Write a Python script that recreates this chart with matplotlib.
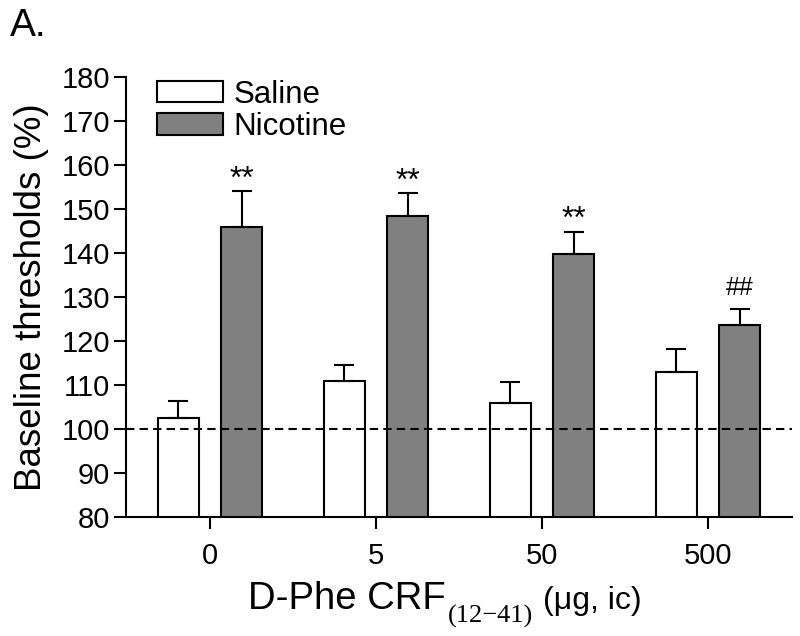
import matplotlib
matplotlib.use("Agg")
import matplotlib.pyplot as plt
import numpy as np

plt.rcParams['font.family'] = ['Liberation Sans', 'DejaVu Sans']

doses = ['0', '5', '50', '500']
saline_mean = [102.5, 110.9, 105.9, 113.0]
saline_sem = [3.9, 3.6, 4.8, 5.2]
nicotine_mean = [145.9, 148.4, 139.8, 123.6]
nicotine_sem = [8.2, 5.2, 5.0, 3.7]
nicotine_marks = ['**', '**', '**', '##']
baseline = 100

W, H = 800, 636
fig = plt.figure(figsize=(W / 100, H / 100), dpi=100)
ax = fig.add_axes([0.1575, 0.187, 0.8325, 0.692])

x = np.arange(len(doses))
w = 0.247
off = 0.19
lw = 1.5

ax.bar(x - off, saline_mean, w, color='white', edgecolor='black', linewidth=lw, label='Saline', zorder=2)
ax.bar(x + off, nicotine_mean, w, color='#808080', edgecolor='black', linewidth=lw, label='Nicotine', zorder=2)
ax.errorbar(x - off, saline_mean, yerr=[np.zeros(4), saline_sem], fmt='none', ecolor='black',
            elinewidth=lw, capsize=7.2, capthick=lw, zorder=3)
ax.errorbar(x + off, nicotine_mean, yerr=[np.zeros(4), nicotine_sem], fmt='none', ecolor='black',
            elinewidth=lw, capsize=7.2, capthick=lw, zorder=3)

for xi, m, s, t in zip(x + off, nicotine_mean, nicotine_sem, nicotine_marks):
    if t == '##':
        ax.annotate(t, xy=(xi, m + s), xytext=(0.5, 10), textcoords='offset points',
                    ha='center', va='baseline', fontsize=18)
    else:
        ax.annotate(t, xy=(xi, m + s), xytext=(0, 2.5), textcoords='offset points',
                    ha='center', va='baseline', fontsize=23)

ax.axhline(baseline, color='black', linestyle=(0, (4, 2.5)), linewidth=1.5, zorder=4)

ax.set_xlim(-0.506, 3.506)
ax.set_ylim(80, 180)
ax.set_yticks(np.arange(80, 181, 10))
ax.set_xticks(x)
ax.set_xticklabels(doses)
ax.tick_params(axis='both', labelsize=21, width=1.5, length=8.6, direction='out')
ax.tick_params(axis='x', pad=9)
ax.tick_params(axis='y', pad=3)
for sp in ['top', 'right']:
    ax.spines[sp].set_visible(False)
for sp in ['left', 'bottom']:
    ax.spines[sp].set_linewidth(1.5)

ax.set_ylabel('Baseline thresholds (%)', fontsize=26.5, labelpad=9)

# x-axis label built from pieces (full-size serif subscript as in the original)
base_y = 1 - 609 / H
fig.text(248 / W, base_y, 'D-Phe CRF', fontsize=27.5, ha='left', va='baseline')
fig.text(448 / W, 1 - 623 / H, '(12\u221241)', fontsize=19, family=['Liberation Serif', 'DejaVu Serif'],
         ha='left', va='baseline')
fig.text(543 / W, base_y, '(\u03bcg, ic)', fontsize=23, ha='left', va='baseline')

ax.legend(loc='upper left', bbox_to_anchor=(0.0465, 0.994), frameon=False, fontsize=22.5,
          borderpad=0, borderaxespad=0, handlelength=2.1, handleheight=0.68,
          handletextpad=0.34, labelspacing=0.08)

fig.text(0.012, 0.987, 'A.', fontsize=28, ha='left', va='top')

fig.savefig('out.png', dpi=100)
